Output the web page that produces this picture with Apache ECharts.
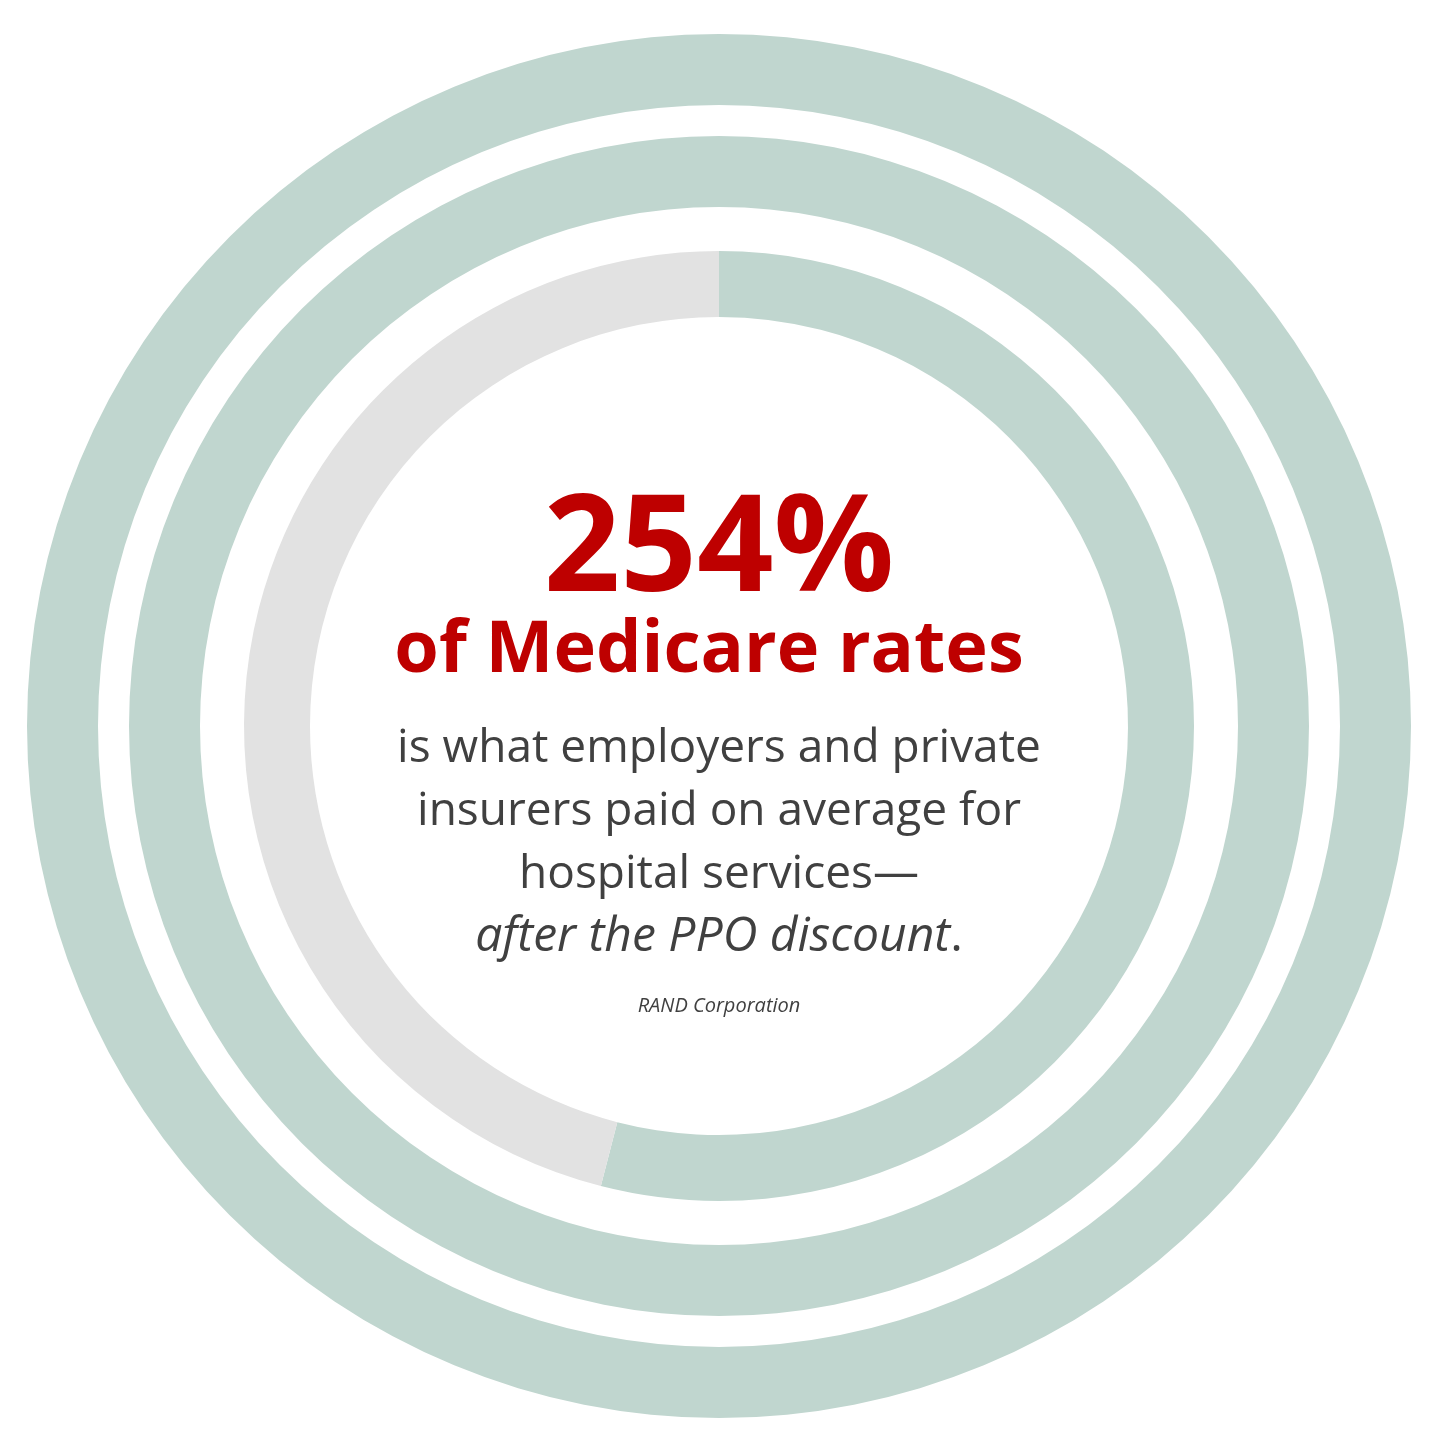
<!DOCTYPE html>
<html>
<head>
<meta charset="utf-8">
<style>
  html, body { margin: 0; padding: 0; background: #ffffff; }
  #ringChart { width: 1440px; height: 1440px; }
</style>
<script src="https://cdn.jsdelivr.net/npm/echarts@6/dist/echarts.min.js"></script>
</head>
<body>
<div id="ringChart"></div>
<script>
// 数据：254% 拆成三圈，每圈满值 100
var rings = ['Ring 1', 'Ring 2', 'Ring 3'];
var ringValues = [100, 100, 54];
var ringMax = 100;
var headline = '254%';
var subHeadline = 'of Medicare rates';
var bodyLines = ['is what employers and private', 'insurers paid on average for', 'hospital services\u2014'];
var italicLine = 'after the PPO discount';
var source = 'RAND Corporation';

var teal = '#c0d6cf';
var grey = '#e2e2e2';
var red = '#be0000';
var ink = '#404040';
var font = '"Open Sans", Lato, sans-serif';

var ringRadius = [[621, 692], [519, 590], [409, 475]];
var center = [719, 726];

var myChart = echarts.init(document.getElementById('ringChart'));

var series = rings.map(function (name, i) {
	return {
		name: name,
		type: 'pie',
		center: center,
		radius: ringRadius[i],
		startAngle: 90,
		clockwise: true,
		silent: true,
		animation: false,
		label: { show: false },
		labelLine: { show: false },
		itemStyle: { borderWidth: 0 },
		data: [
			{ value: ringValues[i], itemStyle: { color: teal } },
			{ value: ringMax - ringValues[i], itemStyle: { color: grey } }
		]
	};
});

// 文字：按基线位置放
function textAt(x, baseline, size, style) {
	style.textAlign = 'center';
	style.textVerticalAlign = 'middle';
	style.align = 'center';
	style.verticalAlign = 'middle';
	return {
		type: 'text',
		x: x,
		y: baseline - size * 0.285,
		silent: true,
		style: style
	};
}

var graphic = [];
graphic.push(textAt(719, 591, 134, { text: headline, font: 'bold 134px ' + font, fill: red }));
graphic.push(textAt(709, 672, 72, { text: subHeadline, font: 'bold 72px ' + font, fill: red }));
bodyLines.forEach(function (line, i) {
	graphic.push(textAt(719, 762 + i * 63, 46, { text: line, font: 'normal 46px ' + font, fill: ink }));
});
graphic.push(textAt(719, 951, 48, {
	text: '{i|' + italicLine + '}{n|.}',
	rich: {
		i: { fontFamily: font, fontSize: 48, fontStyle: 'italic', fill: ink, color: ink },
		n: { fontFamily: font, fontSize: 48, fill: ink, color: ink }
	}
}));
graphic.push(textAt(719, 1012, 20, { text: source, font: 'italic 20px ' + font, fill: ink }));

var option = {
	backgroundColor: '#ffffff',
	series: series,
	graphic: graphic
};

myChart.setOption(option);
</script>
</body>
</html>
